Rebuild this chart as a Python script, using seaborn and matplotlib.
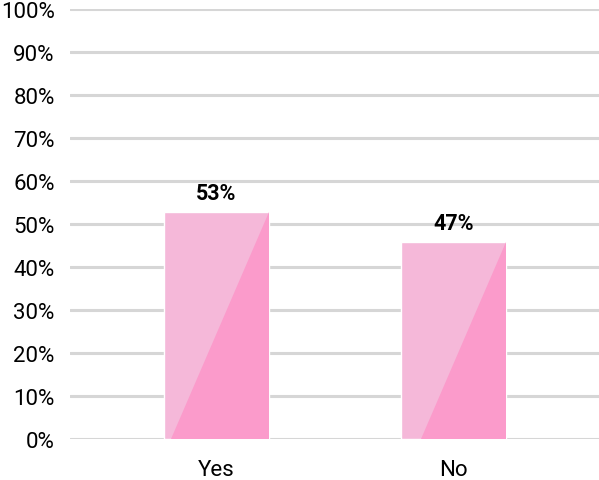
import matplotlib
matplotlib.use("Agg")
import matplotlib.pyplot as plt
import seaborn as sns
import pandas as pd
from matplotlib.patches import Polygon

categories = ["Yes", "No"]
values = [52.8, 45.8]
labels = ["53%", "47%"]

light = "#f5b8d9"
dark = "#fb9bcb"

sns.set_style("white")
plt.rcParams["font.family"] = ["Roboto", "DejaVu Sans"]

df = pd.DataFrame({"answer": categories, "share": values})

fig = plt.figure(figsize=(5.99, 4.81), dpi=100)
ax = fig.add_axes([0.117, 0.085, 0.883, 0.894])

sns.barplot(data=df, x="answer", y="share", color=light, saturation=1,
            width=0.443, ax=ax, zorder=2)

# darker triangle in each bar, anchored at the top-right corner
for bar, v, lab in zip(ax.patches, values, labels):
    x0 = bar.get_x()
    w = bar.get_width()
    x1 = x0 + w
    h = bar.get_height()
    run = w * v * 0.0177
    tri = Polygon([(x1 - run, 0), (x1, 0), (x1, h)], closed=True,
                  facecolor=dark, edgecolor="none", zorder=3)
    ax.add_patch(tri)
    ax.annotate(lab, (x0 + w / 2, h), xytext=(0, 6), textcoords="offset points",
                ha="center", va="bottom", fontsize=15.5, fontweight="bold",
                color="black", zorder=4)

ax.set_ylim(0, 100)
ax.set_xlim(-0.618, 1.614)
ax.set_yticks(range(0, 101, 10))
ax.set_yticklabels([f"{t}%" for t in range(0, 101, 10)])
ax.yaxis.grid(True, color="#d6d6d6", linewidth=2.2)
ax.set_axisbelow(True)
ax.tick_params(axis="y", length=0, pad=11, labelsize=16, labelcolor="black")
ax.tick_params(axis="x", length=0, pad=14, labelsize=16, labelcolor="black")
ax.set_xlabel("")
ax.set_ylabel("")
sns.despine(ax=ax, left=True, bottom=True)

fig.savefig("out.png", dpi=100)
